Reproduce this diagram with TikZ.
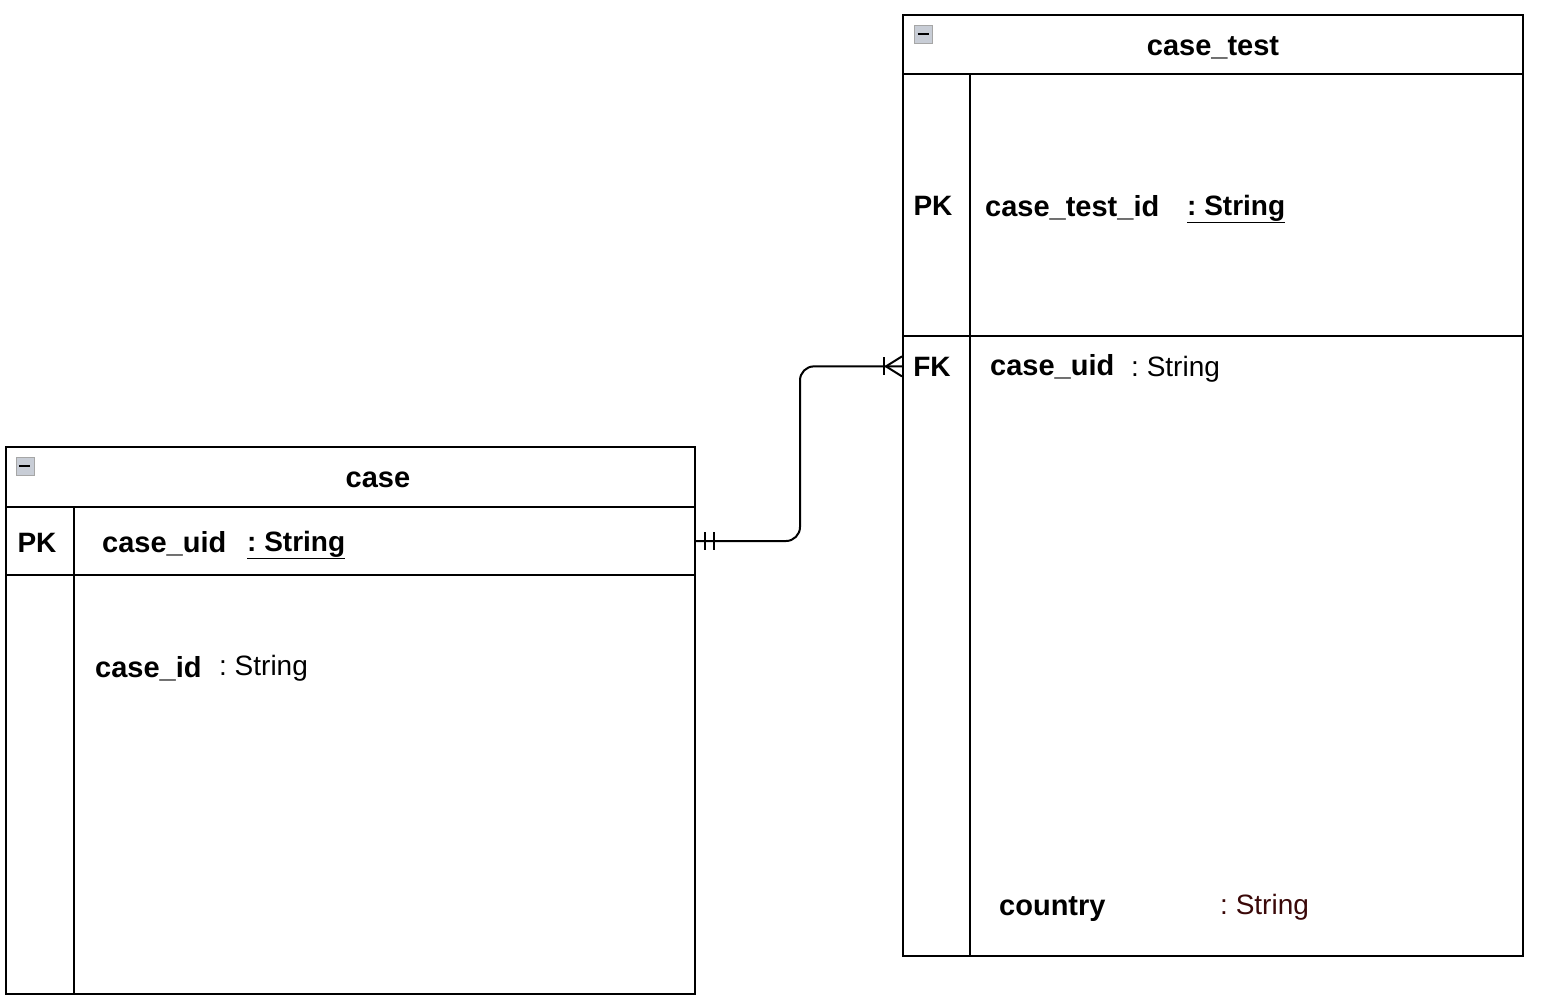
\documentclass[tikz,border=0pt]{standalone}
\usepackage{fontspec}
\setmainfont{Liberation Sans}
\usepackage{xcolor}
\usetikzlibrary{positioning, calc}
\definecolor{erline}{HTML}{000000}
\definecolor{erstr}{HTML}{3A0808}
\definecolor{ericon}{HTML}{C8CDD6}
\frenchspacing

\begin{document}
\begin{tikzpicture}[
  x=1pt, y=-1pt,
  every node/.style={font=\fontsize{29}{33}\selectfont, inner sep=0pt},
  tbl/.style={rectangle, draw=erline, line width=2pt, anchor=north west, inner sep=0pt},
  title/.style={font=\fontsize{29}{33}\selectfont\bfseries, anchor=base},
  key/.style={font=\fontsize{28}{32}\selectfont\bfseries, anchor=base},
  attr/.style={font=\fontsize{29}{33}\selectfont\bfseries, anchor=base west},
  typ/.style={font=\fontsize{28}{32}\selectfont, anchor=base west},
  icon/.style={rectangle, draw=gray!70, fill=ericon, line width=1pt, minimum size=18pt},
  rule/.style={line width=2pt, erline},
  rel/.style={line width=2pt, erline, rounded corners=14pt},
]
\useasboundingbox (0,0) rectangle (1543,1002);

% table case
\node[tbl, minimum width=689pt, minimum height=547pt] (case) at (5,446) {};
\node[tbl, minimum width=689pt, minimum height=68pt] (casepk) at (5,506) {};
\draw[rule] (74,506) -- (74,993);
\node[icon] (caseicon) at (25,466) {\rule{11pt}{2.5pt}};
\node[title] (casetitle) at (378,487) {case};
\node[key] (casepkkey) at (37,552) {PK};
\node[attr] (caseuid) at (102,552) {case\_uid};
\node[typ, font=\fontsize{28}{32}\selectfont\bfseries] (caseuidtype) at (247,551) {\underline{: String}};
\node[attr] (caseid) at (95,677) {case\_id};
\node[typ] (caseidtype) at (219,675) {: String};

% table case_test
\node[tbl, minimum width=620pt, minimum height=941pt] (ctest) at (902,14) {};
\node[tbl, minimum width=620pt, minimum height=262pt] (ctestpk) at (902,73) {};
\draw[rule] (970,73) -- (970,955);
\node[icon] (ctesticon) at (923,34) {\rule{11pt}{2.5pt}};
\node[title] (ctesttitle) at (1213,55) {case\_test};
\node[key] (ctestpkkey) at (933,215) {PK};
\node[attr] (ctestid) at (985,216) {case\_test\_id};
\node[typ, font=\fontsize{28}{32}\selectfont\bfseries] (ctestidtype) at (1187,215) {\underline{: String}};
\node[key] (ctestfkkey) at (932,376) {FK};
\node[attr] (ctestuid) at (990,375) {case\_uid};
\node[typ] (ctestuidtype) at (1131,376) {: String};
\node[attr] (country) at (999,915) {country};
\node[typ, text=erstr] (countrytype) at (1220,914) {: String};

% relation case 1 -- many case_test
\coordinate (relfrom) at (casepk.east);
\coordinate (relto) at (ctest.west |- ctestfkkey.west);
\draw[rel] (relfrom) -- ++(104,0) |- (relto);
\draw[rule] ($(relfrom)+(9,-9)$) -- ++(0,18);
\draw[rule] ($(relfrom)+(18,-9)$) -- ++(0,18);
\draw[rule] ($(relto)+(-16,0)$) -- ++(16,-10);
\draw[rule] ($(relto)+(-16,0)$) -- ++(16,10);
\draw[rule] ($(relto)+(-18,-9)$) -- ++(0,18);
\end{tikzpicture}
\end{document}
